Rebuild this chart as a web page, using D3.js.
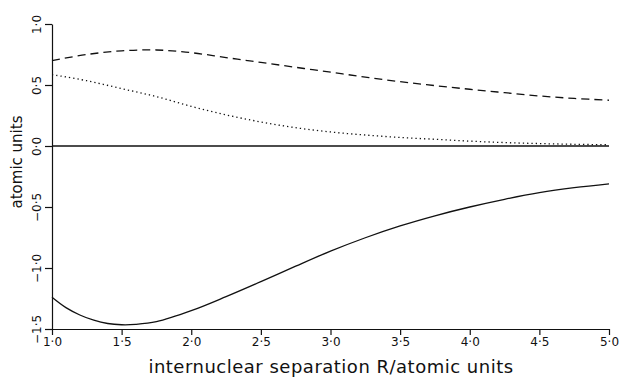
<!DOCTYPE html>
<html>
<head>
<meta charset="utf-8">
<script src="https://cdn.jsdelivr.net/npm/d3@7"></script>
<style>
  body { margin: 0; background: #fff; }
  text { font-family: "DejaVu Sans", sans-serif; fill: #111; }
</style>
</head>
<body>
<div id="chart"></div>
<script>
// values
var rGrid = [1.0, 1.25, 1.5, 1.75, 2.0, 2.25, 2.5, 2.75, 3.0, 3.25, 3.5, 3.75, 4.0, 4.25, 4.5, 4.75, 5.0];
var dashedVals = [0.70, 0.75, 0.78, 0.787, 0.765, 0.725, 0.685, 0.645, 0.605, 0.565, 0.527, 0.495, 0.465, 0.437, 0.41, 0.39, 0.375];
var dottedVals = [0.585, 0.535, 0.47, 0.405, 0.325, 0.255, 0.197, 0.15, 0.115, 0.09, 0.07, 0.055, 0.04, 0.028, 0.02, 0.014, 0.01];
var rSolid = [1.0, 1.1, 1.2, 1.3, 1.4, 1.5, 1.6, 1.75, 2.0, 2.25, 2.5, 2.75, 3.0, 3.25, 3.5, 3.75, 4.0, 4.25, 4.5, 4.75, 5.0];
var solidVals = [-1.24, -1.325, -1.385, -1.428, -1.455, -1.465, -1.462, -1.44, -1.35, -1.235, -1.112, -0.985, -0.862, -0.752, -0.655, -0.572, -0.5, -0.437, -0.383, -0.342, -0.31];
var rZero = [1.0, 5.0];
var zeroVals = [0, 0];
var xTicks = [1.0, 1.5, 2.0, 2.5, 3.0, 3.5, 4.0, 4.5, 5.0];
var yTicks = [1.0, 0.5, 0.0, -0.5, -1.0, -1.5];

var width = 622, height = 377;
var svg = d3.select("#chart").append("svg")
    .attr("width", width)
    .attr("height", height);

var x = d3.scaleLinear().domain([1, 5]).range([52, 609]);
var y = d3.scaleLinear().domain([-1.5, 1]).range([329, 24]);

function fmt(d) {
  return d3.format(".1f")(d).replace(".", "\u00b7").replace("-", "\u2212");
}

// x axis
var xAxis = svg.append("g")
    .attr("transform", "translate(0," + y(-1.5) + ")")
    .call(d3.axisBottom(x).tickValues(xTicks).tickFormat(fmt).tickSize(6).tickSizeOuter(0));
xAxis.selectAll("text").style("font-size", "12px").attr("y", 8);

// y axis, labels turned on their side
var yAxis = svg.append("g")
    .attr("transform", "translate(" + x(1) + ",0)")
    .call(d3.axisLeft(y).tickValues(yTicks).tickFormat(fmt).tickSize(7).tickSizeOuter(0));
yAxis.selectAll("text")
    .style("font-size", "12px")
    .attr("x", 0)
    .attr("y", -11)
    .attr("dy", 0)
    .attr("text-anchor", "middle")
    .attr("transform", "rotate(-90)");

svg.selectAll(".domain, .tick line").attr("stroke", "#111").attr("stroke-width", 1.2);

// axis titles
svg.append("text")
    .attr("x", 331)
    .attr("y", 373)
    .attr("text-anchor", "middle")
    .style("font-size", "18px")
    .style("letter-spacing", "0.5px")
    .text("internuclear separation R/atomic units");

svg.append("text")
    .attr("transform", "translate(22,162) rotate(-90)")
    .attr("text-anchor", "middle")
    .style("font-size", "15px")
    .text("atomic units");

// curves
var line = d3.line()
    .x(function(d) { return x(d[0]); })
    .y(function(d) { return y(d[1]); })
    .curve(d3.curveCatmullRom);

function pairs(rs, vs) {
  return rs.map(function(r, i) { return [r, vs[i]]; });
}

svg.append("path")
    .datum(pairs(rZero, zeroVals))
    .attr("d", line)
    .attr("fill", "none").attr("stroke", "#111").attr("stroke-width", 1.3);

svg.append("path")
    .datum(pairs(rGrid, dashedVals))
    .attr("d", line)
    .attr("fill", "none").attr("stroke", "#111").attr("stroke-width", 1.3)
    .attr("stroke-dasharray", "8,5");

svg.append("path")
    .datum(pairs(rGrid, dottedVals))
    .attr("d", line)
    .attr("fill", "none").attr("stroke", "#111").attr("stroke-width", 1.3)
    .attr("stroke-dasharray", "1.3,3");

svg.append("path")
    .datum(pairs(rSolid, solidVals))
    .attr("d", line)
    .attr("fill", "none").attr("stroke", "#111").attr("stroke-width", 1.3);
</script>
</body>
</html>
